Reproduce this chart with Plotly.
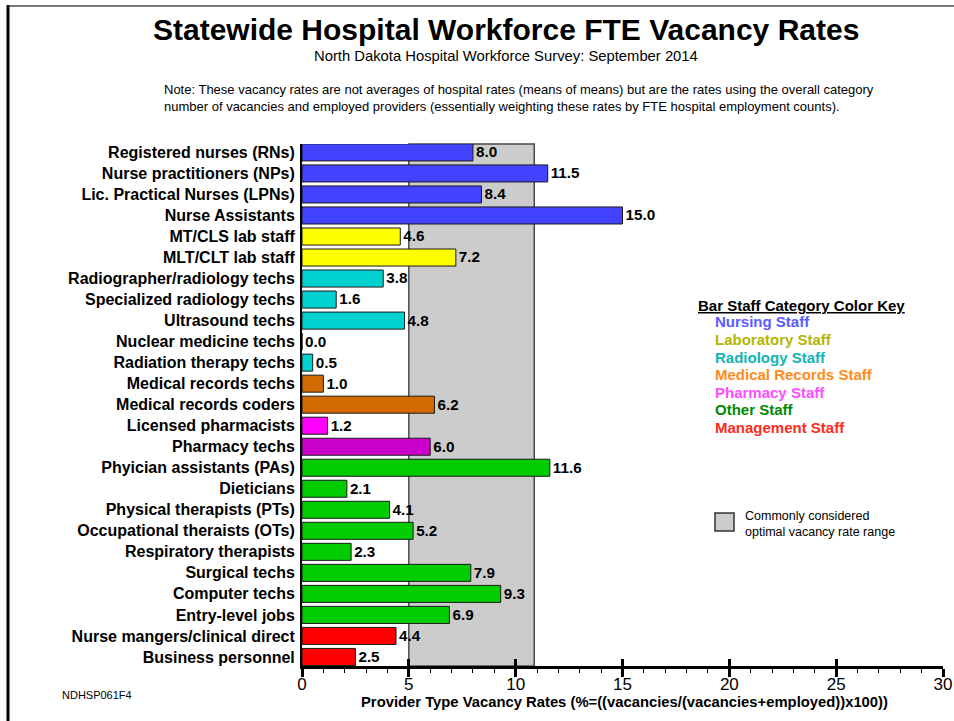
import plotly.graph_objects as go

# ---------------- data ----------------
categories = [
    "Registered nurses (RNs)", "Nurse practitioners (NPs)", "Lic. Practical Nurses (LPNs)",
    "Nurse Assistants", "MT/CLS lab staff", "MLT/CLT lab staff",
    "Radiographer/radiology techs", "Specialized radiology techs", "Ultrasound techs",
    "Nuclear medicine techs", "Radiation therapy techs", "Medical records techs",
    "Medical records coders", "Licensed pharmacists", "Pharmacy techs",
    "Phyician assistants (PAs)", "Dieticians", "Physical therapists (PTs)",
    "Occupational theraists (OTs)", "Respiratory therapists", "Surgical techs",
    "Computer techs", "Entry-level jobs", "Nurse mangers/clinical direct",
    "Business personnel",
]
vacancy_rates = [8.0, 11.5, 8.4, 15.0, 4.6, 7.2, 3.8, 1.6, 4.8, 0.0, 0.5, 1.0, 6.2,
                 1.2, 6.0, 11.6, 2.1, 4.1, 5.2, 2.3, 7.9, 9.3, 6.9, 4.4, 2.5]
bar_groups = ["nursing"] * 4 + ["lab"] * 2 + ["radiology"] * 5 + ["medrec"] * 2 + \
             ["pharmacist", "pharmtech"] + ["other"] * 8 + ["management"] * 2
optimal_range = [5.0, 10.87]
x_range = [0, 30]

group_colors = {
    "nursing": "#4242ff", "lab": "#ffff00", "radiology": "#00d2d2",
    "medrec": "#d26a00", "pharmacist": "#ff00ff", "pharmtech": "#cc00cc",
    "other": "#00cc00", "management": "#ff0000",
}
key_labels = ["Nursing Staff", "Laboratory Staff", "Radiology Staff", "Medical Records Staff",
              "Pharmacy Staff", "Other Staff", "Management Staff"]
key_colors = ["#5a5aff", "#b5b500", "#12b5b5", "#ff8c1a", "#ff4dff", "#008a00", "#ff2a1a"]

FONT = "Liberation Sans, Arial, Helvetica, sans-serif"

# ---------------- layout helpers ----------------
W, H = 954, 721
ML, MR, MT, MB = 302, 11, 144, 55
PW, PH = W - ML - MR, H - MT - MB


def px(x):
    return (x - ML) / PW


def py(y):
    return (H - MB - y) / PH


fig = go.Figure()
fig.add_trace(go.Bar(
    x=vacancy_rates, y=categories, orientation="h",
    marker=dict(color=[group_colors[g] for g in bar_groups],
                line=dict(color="#1a1a1a", width=1)),
    width=0.81,
    text=vacancy_rates, texttemplate="%{x:.1f}", textposition="outside",
    textfont=dict(family=FONT, size=17, color="black", weight="bold"),
    cliponaxis=False, hoverinfo="x+y", showlegend=False,
))
# invisible helper trace so the inside-tick axis is drawn
fig.add_trace(go.Scatter(
    x=vacancy_rates, y=categories, xaxis="x2", mode="markers",
    marker=dict(opacity=0), hoverinfo="skip", showlegend=False,
))

shapes = [
    dict(type="rect", xref="x", yref="paper", x0=optimal_range[0], x1=optimal_range[1],
         y0=0, y1=1, fillcolor="#cccccc", line=dict(color="#4a4a4a", width=1.5), layer="below"),
    # key square
    dict(type="rect", xref="paper", yref="paper", x0=px(715), x1=px(734), y0=py(531), y1=py(513),
         fillcolor="#cccccc", line=dict(color="#333333", width=1.5)),
    # page frame
    dict(type="line", xref="paper", yref="paper", x0=px(7), x1=px(960), y0=py(6), y1=py(6),
         line=dict(color="#7a7a7a", width=2)),
    dict(type="line", xref="paper", yref="paper", x0=px(8), x1=px(8), y0=py(5), y1=py(730),
         line=dict(color="black", width=3)),
]

annotations = [
    dict(text="<b>Statewide Hospital Workforce FTE Vacancy Rates</b>", x=px(506), y=py(30),
         font=dict(family=FONT, size=30, color="black")),
    dict(text="North Dakota Hospital Workforce Survey: September 2014", x=px(506), y=py(56),
         font=dict(family=FONT, size=14.8, color="black")),
    dict(text="Note: These vacancy rates are not averages of hospital rates (means of means) but are the rates using the overall category<br>"
              "number of vacancies and employed providers (essentially weighting these rates by FTE hospital employment counts).",
         x=px(162), y=py(97.5), xanchor="left", align="left",
         font=dict(family=FONT, size=13, color="black")),
    dict(text="<b><u>Bar Staff Category Color Key</u></b>", x=px(696), y=py(305.5), xanchor="left",
         font=dict(family=FONT, size=15, color="black")),
    dict(text="Commonly considered<br>optimal vacancy rate range", x=px(743), y=py(523.5),
         xanchor="left", align="left", font=dict(family=FONT, size=12.5, color="black")),
    dict(text="NDHSP061F4", x=px(60), y=py(695), xanchor="left",
         font=dict(family=FONT, size=11, color="black")),
    dict(text="<b>Provider Type Vacancy Rates (%=((vacancies/(vacancies+employed))x100))</b>",
         x=px(624), y=py(702), font=dict(family=FONT, size=14.8, color="black")),
]
key_y = [321.7, 339.5, 357, 374.5, 392, 409.5, 427]
for lbl, col, yy in zip(key_labels, key_colors, key_y):
    annotations.append(dict(text=f"<b>{lbl}</b>", x=px(713), y=py(yy), xanchor="left",
                            font=dict(family=FONT, size=15, color=col)))
for a in annotations:
    a.update(xref="paper", yref="paper", showarrow=False)
    a.setdefault("xanchor", "center")
    a.setdefault("yanchor", "middle")

fig.update_layout(
    width=W, height=H, autosize=False,
    margin=dict(l=ML, r=MR, t=MT, b=MB, pad=0, autoexpand=False),
    paper_bgcolor="white", plot_bgcolor="white",
    bargap=0.19,
    xaxis=dict(range=x_range, showgrid=False, zeroline=False, automargin=False,
               showline=True, linecolor="black", linewidth=3,
               ticks="outside", ticklen=8, tickwidth=2.5, tickcolor="black",
               tick0=0, dtick=5, ticklabelstandoff=-7,
               minor=dict(ticks="outside", ticklen=4, tickwidth=1, tickcolor="black", dtick=1,
                          showgrid=False),
               tickfont=dict(family=FONT, size=17, color="black")),
    xaxis2=dict(range=x_range, overlaying="x", anchor="y", side="bottom", automargin=False,
                showgrid=False, zeroline=False, showline=False,
                ticks="inside", ticklen=7, tickwidth=2.5, tickcolor="black",
                tick0=0, dtick=5, showticklabels=False),
    yaxis=dict(range=[24.43, -0.40], type="category", showgrid=False, zeroline=False,
               automargin=False,
               showline=True, linecolor="black", linewidth=2,
               ticks="", ticklabelstandoff=2,
               tickfont=dict(family=FONT, size=16, color="black", weight="bold")),
    shapes=shapes, annotations=annotations,
)

fig.write_html("out.html", config={"displayModeBar": False},
               post_script="document.body.style.margin='0';document.body.style.overflow='hidden';")
